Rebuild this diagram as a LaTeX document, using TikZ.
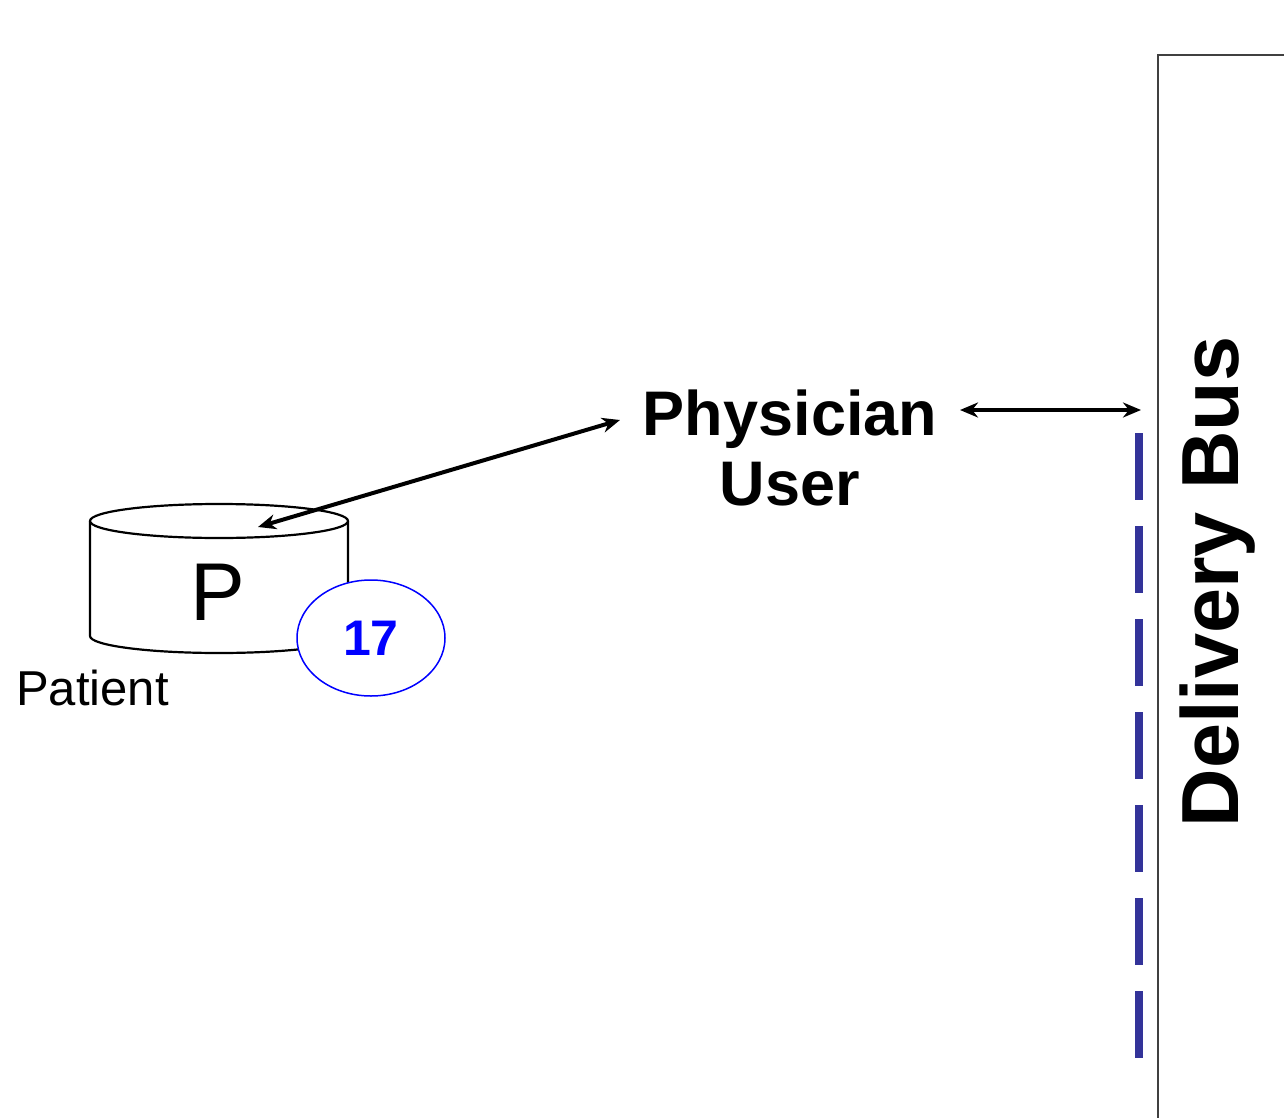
\documentclass[tikz,border=0pt]{standalone}
\usepackage{fontspec}
\setmainfont{Liberation Sans}
\usetikzlibrary{arrows.meta,shapes.geometric}
\definecolor{busblue}{RGB}{51,51,153}
\tikzset{
  conn/.style={{Stealth[length=18pt,width=15pt]}-{Stealth[length=18pt,width=15pt]}, line width=4pt, black},
  boldlbl/.style={font=\fontsize{63}{70}\selectfont\bfseries, align=center, inner sep=0pt},
}
\begin{document}
\begin{tikzpicture}[x=1pt,y=-1pt]
\useasboundingbox (0,0) rectangle (1284,1118);
\fill[white] (0,0) rectangle (1284,1118);
% bus frame
\draw[line width=2.5pt, black!75] (1284,55) -- (1158,55) -- (1158,1118);
\node[rotate=90, font=\fontsize{81}{81}\selectfont\bfseries, inner sep=0pt] (bus) at (1218,582) {Delivery Bus};
% dashed line
\draw[busblue, line width=8pt, dash pattern=on 67pt off 26pt] (1139,433) -- (1139,1060);
% cylinder
\draw[line width=2.2pt, fill=white] (90,521) -- (90,636) arc[start angle=180, end angle=0, x radius=129, y radius=17] -- (348,521);
\draw[line width=2.2pt, fill=white] (219,521) ellipse[x radius=129, y radius=17];
\node[font=\fontsize{82}{82}\selectfont, inner sep=0pt] (p) at (218,592) {P};
\coordinate (ptop) at (258,527);
\node[anchor=base west, font=\fontsize{49}{49}\selectfont, inner sep=0pt] (patient) at (16,705) {Patient};
% badge
\node[draw=blue, line width=1.5pt, fill=white, ellipse, minimum width=148pt, minimum height=116pt, inner sep=0pt, text=blue, font=\fontsize{50}{50}\selectfont\bfseries] (b17) at (371,638) {17};
% physician
\node[boldlbl] (phys) at (790,448) {Physician\\User};
\coordinate (pl) at (620,420);
\coordinate (pr) at (960,410);
\coordinate (busin) at (1141,410);
\draw[conn] (ptop) -- (pl);
\draw[conn] (pr) -- (busin);
\end{tikzpicture}
\end{document}
